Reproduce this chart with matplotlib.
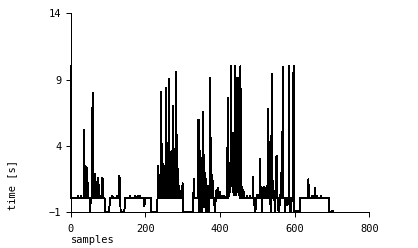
import numpy as np
import matplotlib
matplotlib.use('Agg')
import matplotlib.pyplot as plt

plt.rcParams['font.family'] = 'DejaVu Sans Mono'
plt.rcParams['path.simplify'] = False

# Number of samples in the trace
N_SAMPLES = 704

# Piecewise baseline: level starts (sample index) and their values [s]
level_start = [0, 2, 92, 105, 134, 145, 147, 197, 199, 216, 233, 301, 329,
               599, 604, 615, 693, 700]
level_value = [10.0, 0.1, -1.0, 0.1, -1.0, -0.6, 0.1, -0.5, 0.1, -1.0, 0.05, -1.0, 0.05,
               -1.0, -0.9, 0.05, -1.0, -0.9]

# Single-sample excursions
spike_at = [
    20, 28, 37, 43, 46, 53, 59, 61, 63, 66, 68, 70, 72, 73, 75, 77, 84, 86,
    112, 125, 131, 133, 160, 172, 180, 186,
    235, 237, 239, 241, 243, 245, 246, 248, 250, 252, 254, 256, 258, 259, 261,
    263, 264, 266, 268, 270, 272, 273, 275, 277, 279, 280, 282, 283, 285, 286,
    288, 290, 292, 295, 300,
    330, 341, 342, 343, 344, 345, 346, 348, 349, 350, 352, 353, 355, 357, 358,
    360, 361, 363, 364, 366, 367, 369, 371, 374, 376, 378, 380, 382, 384, 386,
    388, 391, 395, 400, 406, 412,
    420, 422, 424, 425, 426, 427, 428, 429, 430, 431, 432, 433, 434, 435, 436,
    437, 438, 439, 440, 441, 442, 443, 444, 445, 446, 447, 448, 449, 450, 451,
    452, 453, 455, 456, 457, 459, 461, 463, 465, 472, 480,
    489, 492, 494, 495, 496, 500, 505, 507, 509, 512, 513, 515, 517, 519, 521,
    524, 526, 529, 531, 532, 534, 536, 537, 539, 541, 543, 547, 551, 553, 557,
    558, 560, 562, 564, 566, 569, 575, 579, 580, 582, 585, 589, 590, 591, 596, 598,
    637, 639, 646, 654, 660, 671,
]
spike_val = [
    0.25, 0.25, 5.2, 2.4, 1.2, -1.0, 8.0, 4.0, 0.6, 1.9, 0.5, 1.3, 0.4, 1.6, 1.1, 0.7, 1.6, 1.5,
    0.25, 0.25, 1.75, 1.6, 0.25, 0.25, 0.25, 0.25,
    2.5, 1.8, 0.8, 1.2, 8.1, 1.5, 4.15, 1.0, 2.0, 1.4, 2.5, 8.4, 2.0, 4.25, 3.0,
    2.5, 9.05, 3.5, 2.8, 3.6, 3.5, 3.6, 7.0, 3.0, 2.5, 3.8, 3.0, 9.6, 2.0, 4.8,
    1.5, 1.0, 0.6, 0.5, 1.2,
    1.5, 6.0, 1.0, 6.0, -1.0, 2.0, -1.0, 3.6, -1.0, 1.0, 2.0, -1.0, 6.56, 3.3, -0.6,
    2.0, -0.6, 1.5, -1.0, 0.9, -1.0, 1.0, -0.9, 9.1, 4.6, 0.9, 1.8, 0.4, -0.3, -1.0,
    -0.3, 0.7, 0.8, 0.55, 0.25, 0.25,
    3.9, 7.6, 1.5, 0.4, 2.0, 0.5, 2.7, 1.0, 10.0, 3.0, 4.6, 1.0, 4.6, 0.5, 5.0,
    0.3, 5.0, 0.5, 5.0, 10.0, 0.5, 5.0, 0.3, 9.1, 0.5, 9.1, 0.5, 9.1, 0.5, 5.05,
    0.3, 5.0, 10.0, 1.7, 0.9, 0.9, 0.6, 0.7, 0.5, 0.25, 0.25,
    1.7, -0.45, -0.45, -1.0, -0.45, 0.3, 0.3, 3.0, 0.9, 0.5, -1.0, 0.8, 0.9, 0.7, 0.8,
    0.3, 1.0, 6.8, 4.3, 4.2, 0.5, -1.0, 4.75, 9.4, 1.4, 1.4, -1.0, 3.2, 3.27, -1.0,
    -1.0, -0.5, 0.3, 2.0, 5.05, 9.95, -1.0, -0.45, -0.45, -0.4, 10.0, -1.0, -1.0, -1.0, 9.5, 10.0,
    1.5, 0.8, 0.25, 0.85, 0.25, 0.25,
]

x_ticks = [0, 200, 400, 600, 800]
y_ticks = [-1, 4, 9, 14]


def build_trace():
    trace = np.empty(N_SAMPLES)
    bounds = level_start[1:] + [N_SAMPLES]
    for s, e, v in zip(level_start, bounds, level_value):
        trace[s:e] = v
    for i, v in zip(spike_at, spike_val):
        trace[i] = v
    return trace


def main():
    W, H = 418, 248
    fig = plt.figure(figsize=(W / 100, H / 100), dpi=100)
    ax = fig.add_axes([70.5 / W, 1 - 212.3 / H, 298.8 / W, 199.0 / H])

    trace = build_trace()
    ax.plot(np.arange(N_SAMPLES), trace, color='black', linewidth=0.7,
            antialiased=False, clip_on=False)

    ax.set_xlim(0, 800)
    ax.set_ylim(-1, 14)
    ax.set_xticks(x_ticks)
    ax.set_yticks(y_ticks)
    ax.spines['top'].set_visible(False)
    ax.spines['right'].set_visible(False)
    ax.spines['left'].set_bounds(-1, 14)
    ax.spines['bottom'].set_bounds(0, 800)
    for sp in ('left', 'bottom'):
        ax.spines[sp].set_linewidth(0.7)
        ax.spines[sp].set_antialiased(False)
    ax.tick_params(direction='out', length=3.6, width=0.7, labelsize=7.5,
                   colors='black')
    ax.tick_params(axis='x', pad=5)
    ax.tick_params(axis='y', pad=3)

    fig.text(70.5 / W, 1 - 242.7 / H, 'samples', fontsize=7.5,
             ha='left', va='baseline')
    fig.text(11.7 / W, 1 - 210 / H, 'time [s]', fontsize=7.5,
             rotation=90, ha='center', va='bottom')

    fig.savefig('out.png', dpi=100)


if __name__ == '__main__':
    main()
